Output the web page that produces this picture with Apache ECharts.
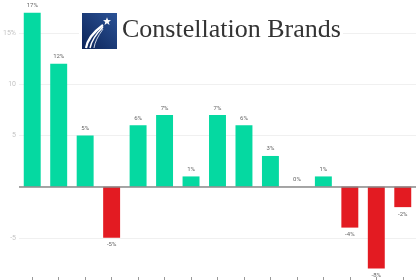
<!DOCTYPE html>
<html>
<head>
<meta charset="utf-8">
<script src="https://cdn.jsdelivr.net/npm/echarts@6/dist/echarts.min.js"></script>
<style>
  html, body { margin: 0; padding: 0; background: #fff; overflow: hidden; }
  /* the reference is a crop: the plot runs a little past the top and bottom edges */
  #chart { width: 420px; height: 308px; margin-top: -18px; }
</style>
</head>
<body>
<div id="chart"></div>
<script>
// periods (axis labels fall outside the visible crop)
const periods = ['P1', 'P2', 'P3', 'P4', 'P5', 'P6', 'P7', 'P8', 'P9', 'P10', 'P11', 'P12', 'P13', 'P14', 'P15'];
// growth in percent
const growth = [17, 12, 5, -5, 6, 7, 1, 7, 6, 3, 0, 1, -4, -8, -2];
const yTicks = [-10, -5, 0, 5, 10, 15, 20];

const GREEN = '#05d9a1';
const RED = '#e31b22';
const DY = 18; // page -> chart offset

const chart = echarts.init(document.getElementById('chart'));

const barData = growth.map(v => ({
    value: v,
    itemStyle: { color: v < 0 ? RED : GREEN },
    label: { position: v < 0 ? 'bottom' : 'top' }
}));

const option = {
    animation: false,
    grid: { left: 18, right: 4, top: 0, bottom: 1, containLabel: false },
    xAxis: {
        type: 'category',
        data: periods,
        offset: -12,
        axisLine: { show: false, onZero: false },
        axisTick: { show: true, interval: 0, alignWithLabel: true, length: 5, lineStyle: { color: '#999' } },
        axisLabel: { show: false, interval: 0 }
    },
    yAxis: {
        type: 'value',
        min: yTicks[0],
        max: yTicks[yTicks.length - 1],
        interval: 5,
        axisLine: { show: false },
        axisTick: { show: false },
        splitLine: { lineStyle: { color: '#f0f0f0', width: 1 } },
        axisLabel: {
            color: '#c4c4c4',
            fontSize: 7,
            fontFamily: 'Roboto',
            margin: 3,
            formatter: v => {
                if (v === 0 || v === 20 || v === -10) return '';
                if (v === 15) return '15%';
                return String(v);
            }
        }
    },
    series: [{
        type: 'bar',
        data: barData,
        barWidth: '64%',
        label: {
            show: true,
            fontSize: 6,
            fontFamily: 'Roboto',
            color: '#666',
            distance: 4,
            formatter: p => p.value + '%'
        },
        markLine: {
            silent: true,
            symbol: 'none',
            label: { show: false },
            lineStyle: { color: '#8a8a8a', width: 1.5, type: 'solid' },
            data: [{ yAxis: 0 }]
        }
    }],
    graphic: [
        { type: 'rect', shape: { x: 79, y: 11 + DY, width: 264, height: 40 }, style: { fill: '#fff' }, z: 10 },
        {
            type: 'rect', shape: { x: 82, y: 13 + DY, width: 35, height: 36 }, z: 11,
            style: {
                fill: new echarts.graphic.LinearGradient(0, 1, 1, 0, [
                    { offset: 0, color: '#0c2458' },
                    { offset: 1, color: '#2b5296' }
                ])
            }
        },
        {
            type: 'polygon', z: 12,
            shape: {
                points: (function () {
                    const pts = [], cx = 107, cy = 21.5 + DY, R = 4.2, r = 1.8;
                    for (let i = 0; i < 10; i++) {
                        const a = -Math.PI / 2 + i * Math.PI / 5;
                        const rr = i % 2 ? r : R;
                        pts.push([cx + rr * Math.cos(a), cy + rr * Math.sin(a)]);
                    }
                    return pts;
                })()
            },
            style: { fill: '#fff' }
        },
        { type: 'bezierCurve', z: 12, shape: { x1: 86, y1: 48 + DY, cpx1: 88, cpy1: 36 + DY, x2: 103, y2: 25 + DY }, style: { stroke: '#fff', lineWidth: 2.2, fill: null } },
        { type: 'bezierCurve', z: 12, shape: { x1: 90, y1: 48 + DY, cpx1: 92, cpy1: 38 + DY, x2: 103, y2: 27 + DY }, style: { stroke: '#fff', lineWidth: 1.4, fill: null } },
        { type: 'bezierCurve', z: 12, shape: { x1: 94, y1: 48 + DY, cpx1: 95, cpy1: 40 + DY, x2: 103, y2: 29 + DY }, style: { stroke: '#dfe6f2', lineWidth: 0.9, fill: null } },
        {
            type: 'text', z: 12, left: 122, top: 17 + DY,
            style: {
                text: 'Constellation Brands',
                fill: '#333',
                font: '26px "Liberation Serif"'
            }
        }
    ]
};

chart.setOption(option);
</script>
</body>
</html>
